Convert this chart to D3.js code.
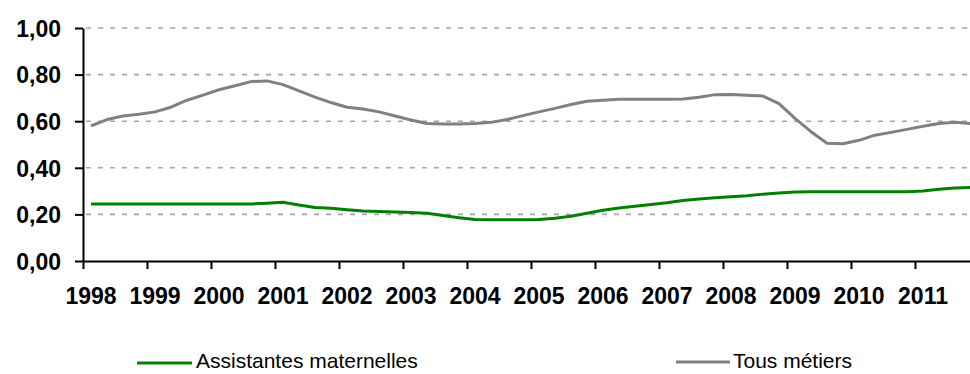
<!DOCTYPE html>
<html>
<head>
<meta charset="utf-8">
<script src="https://cdn.jsdelivr.net/npm/d3@7/dist/d3.min.js"></script>
<style>
  html, body { margin: 0; padding: 0; background: #ffffff; }
  svg { display: block; }
</style>
</head>
<body>
<svg id="chart" width="970" height="374"></svg>
<script>
// ---- Data (quarterly, 1998 Q1 -> 2011 Q4) ----
const years = ["1998","1999","2000","2001","2002","2003","2004","2005","2006","2007","2008","2009","2010","2011"];
const yTicks = [0, 0.2, 0.4, 0.6, 0.8, 1.0];
const seriesNames = ["Assistantes maternelles", "Tous métiers"];

const assistantes = [
  0.245,0.245,0.245,0.245, 0.245,0.245,0.245,0.245, 0.245,0.245,0.245,0.248,
  0.252,0.240,0.230,0.226, 0.220,0.215,0.212,0.210, 0.208,0.205,0.195,0.186,
  0.178,0.177,0.177,0.177, 0.178,0.183,0.192,0.205, 0.218,0.227,0.235,0.242,
  0.250,0.260,0.266,0.271, 0.276,0.280,0.287,0.292, 0.296,0.297,0.297,0.297,
  0.297,0.297,0.297,0.297, 0.300,0.308,0.313,0.316
];
const tousMetiers = [
  0.580,0.607,0.622,0.630, 0.640,0.660,0.690,0.712, 0.735,0.752,0.770,0.773,
  0.757,0.730,0.703,0.680, 0.660,0.652,0.640,0.622, 0.605,0.590,0.588,0.588,
  0.590,0.595,0.607,0.624, 0.640,0.655,0.672,0.686, 0.690,0.694,0.694,0.694,
  0.694,0.695,0.703,0.714, 0.715,0.711,0.708,0.675, 0.612,0.555,0.505,0.503,
  0.518,0.540,0.552,0.565, 0.578,0.590,0.595,0.590
];
const colors = ["#008000", "#808080"];

// ---- Layout ----
const svg = d3.select("#chart");
const nQ = assistantes.length;
const x = d3.scaleLinear().domain([0, nQ]).range([83, 83 + nQ * 16]);
const y = d3.scaleLinear().domain([0, 1]).range([261, 28]);
const right = 970;

// gridlines
svg.append("g")
  .selectAll("line")
  .data(yTicks.filter(d => d > 0))
  .join("line")
  .attr("x1", 86).attr("x2", right)
  .attr("y1", d => y(d)).attr("y2", d => y(d))
  .attr("stroke", "#a6a6a6")
  .attr("stroke-width", 1.6)
  .attr("stroke-dasharray", "5,7");

// y axis
const yAxis = d3.axisLeft(y)
  .tickValues(yTicks)
  .tickSize(8)
  .tickSizeOuter(0)
  .tickPadding(14)
  .tickFormat(d => d3.format(".2f")(d).replace(".", ","));
const gy = svg.append("g").attr("transform", "translate(83,0)").call(yAxis);
gy.select(".domain").attr("stroke", "#000").attr("stroke-width", 2);
gy.selectAll(".tick line").attr("stroke", "#000").attr("stroke-width", 2);
gy.selectAll(".tick text")
  .attr("fill", "#000")
  .style("font-family", "'Liberation Sans', Arial, sans-serif")
  .style("font-weight", "bold")
  .style("font-size", "23px")
  .attr("dy", "0.36em");

// x axis: tick marks at year boundaries
const xTickVals = d3.range(0, nQ + 1, 4);
const xAxis = d3.axisBottom(x)
  .tickValues(xTickVals)
  .tickSize(8)
  .tickSizeOuter(0)
  .tickFormat("");
const gx = svg.append("g").attr("transform", "translate(0,261)").call(xAxis);
gx.select(".domain").attr("stroke", "#000").attr("stroke-width", 2);
gx.selectAll(".tick line").attr("stroke", "#000").attr("stroke-width", 2);

// year labels centered on first quarter of each year
svg.append("g")
  .selectAll("text")
  .data(years)
  .join("text")
  .attr("x", (d, i) => x(i * 4 + 0.5))
  .attr("y", 304)
  .attr("text-anchor", "middle")
  .attr("fill", "#000")
  .style("font-family", "'Liberation Sans', Arial, sans-serif")
  .style("font-weight", "bold")
  .style("font-size", "23px")
  .text(d => d);

// lines
const line = d3.line()
  .x((d, i) => x(i + 0.5))
  .y(d => y(d));

[assistantes, tousMetiers].forEach((s, k) => {
  svg.append("path")
    .datum(s)
    .attr("fill", "none")
    .attr("stroke", colors[k])
    .attr("stroke-width", 3)
    .attr("stroke-linejoin", "round")
    .attr("d", line);
});

// legend
const legendPos = [{x1: 137, x2: 192, ly: 363, tx: 196}, {x1: 676, x2: 730, ly: 362, tx: 733}];
const lg = svg.append("g");
seriesNames.forEach((name, k) => {
  const p = legendPos[k];
  lg.append("line")
    .attr("x1", p.x1).attr("x2", p.x2)
    .attr("y1", p.ly).attr("y2", p.ly)
    .attr("stroke", colors[k])
    .attr("stroke-width", 3);
  lg.append("text")
    .attr("x", p.tx)
    .attr("y", 368)
    .attr("fill", "#000")
    .style("font-family", "'Liberation Sans', Arial, sans-serif")
    .style("font-size", "21px")
    .text(name);
});
</script>
</body>
</html>
